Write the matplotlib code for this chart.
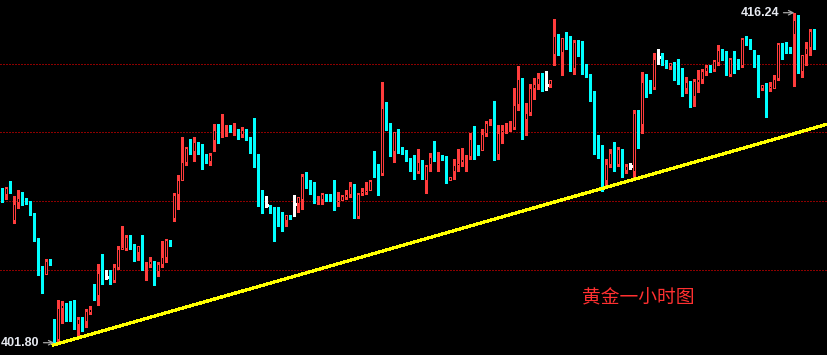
import matplotlib
matplotlib.use("Agg")
import matplotlib.pyplot as plt
import numpy as np

# 黄金 1小时 K线 (开, 高, 低, 收)
opens = [408.45, 408.28, 408.57, 407.11, 407.90, 408.19, 408.13, 408.02, 407.43, 406.29,
         404.84, 404.75, 405.39, 402.59, 401.92, 403.26, 403.47, 403.41, 403.26, 402.59,
         402.85, 402.71, 403.09, 404.02, 403.84, 404.84, 404.69, 404.72, 404.49, 405.07,
         405.86, 405.89, 406.44, 406.00, 405.74, 406.03, 405.01, 405.21, 405.33, 404.89,
         405.21, 405.51, 406.24, 407.20, 408.28, 408.89, 409.68, 410.32, 410.15, 410.55,
         410.50, 409.74, 409.71, 410.64, 411.17, 410.96, 411.05, 411.20, 411.11, 411.17,
         410.87, 411.14, 410.73, 410.99, 409.62, 408.45, 407.81, 407.81, 407.55, 407.34,
         407.29, 407.14, 407.35, 407.87, 407.87, 408.05, 409.10, 408.66, 408.34, 408.05,
         408.05, 408.31, 408.22, 408.92, 407.93, 408.02, 408.13, 408.25, 408.66, 407.29,
         408.31, 408.37, 408.45, 409.79, 409.36, 409.18, 412.07, 411.25, 410.15, 411.02,
         410.26, 410.20, 409.88, 409.42, 409.27, 409.71, 408.86, 409.56, 409.94, 409.82,
         409.94, 409.88, 408.89, 409.27, 409.53, 409.68, 409.82, 409.94, 410.76, 410.35,
         410.20, 410.93, 411.40, 412.01, 410.00, 410.99, 411.08, 411.11, 411.20, 412.19,
         413.32, 411.55, 411.87, 412.92, 413.09, 413.41, 413.09, 413.06, 414.40, 415.22,
         414.46, 415.16, 414.96, 413.76, 414.96, 414.61, 413.91, 413.56, 411.55, 410.41,
         410.32, 408.89, 409.56, 410.15, 409.56, 410.20, 409.33, 409.53, 409.27, 411.84,
         411.31, 413.21, 413.12, 412.95, 414.29, 414.32, 414.05, 413.88, 414.08, 413.91,
         413.56, 412.92, 413.21, 412.57, 413.18, 413.30, 413.65, 413.88, 413.73, 414.03,
         414.61, 414.52, 413.50, 414.23, 414.08, 413.91, 415.05, 414.99, 414.23, 414.11,
         412.92, 413.06, 412.89, 412.92, 413.33, 414.84, 414.75, 414.75, 415.28, 415.95,
         413.65, 414.37, 414.70, 415.45]
highs = [408.56, 408.63, 408.89, 408.22, 408.48, 408.40, 408.13, 408.02, 407.46, 406.38,
         405.16, 405.45, 405.48, 402.82, 403.67, 403.64, 403.55, 403.61, 403.67, 402.94,
         402.94, 403.26, 403.41, 404.37, 405.24, 405.68, 404.98, 404.98, 405.24, 406.03,
         406.91, 406.50, 406.50, 406.12, 406.03, 406.53, 405.33, 405.54, 405.39, 405.33,
         406.27, 406.35, 406.29, 408.34, 409.15, 410.82, 410.38, 410.73, 410.82, 410.58,
         410.50, 410.06, 410.09, 411.37, 411.37, 411.81, 411.31, 411.31, 411.40, 411.17,
         411.22, 411.17, 410.79, 411.63, 410.06, 408.48, 408.22, 407.81, 407.75, 407.72,
         407.52, 407.37, 407.40, 408.28, 408.19, 409.18, 409.27, 408.92, 408.83, 408.22,
         408.37, 408.31, 408.31, 408.92, 408.40, 408.28, 408.48, 408.83, 408.74, 408.37,
         408.57, 408.83, 408.92, 410.17, 409.62, 413.21, 412.33, 411.40, 411.02, 411.14,
         410.35, 410.23, 409.88, 410.00, 410.26, 409.79, 409.56, 410.12, 410.61, 410.15,
         410.03, 409.97, 409.07, 409.82, 410.29, 410.32, 410.00, 410.99, 411.28, 410.44,
         411.14, 411.49, 411.57, 412.36, 411.31, 411.31, 411.40, 411.49, 412.95, 413.91,
         413.38, 412.30, 413.12, 413.38, 413.59, 413.59, 413.67, 413.30, 415.98, 415.31,
         415.13, 415.40, 415.22, 415.05, 415.05, 415.02, 414.00, 413.56, 412.83, 410.90,
         410.44, 409.82, 410.29, 410.58, 410.38, 410.29, 409.62, 409.68, 411.98, 411.98,
         413.65, 413.56, 413.30, 414.49, 414.67, 414.49, 414.17, 414.05, 414.08, 414.23,
         413.82, 413.44, 413.24, 413.33, 413.73, 413.76, 413.94, 413.94, 414.17, 414.81,
         414.64, 414.55, 414.26, 414.55, 414.23, 415.13, 415.22, 415.07, 414.61, 414.37,
         413.09, 413.18, 413.21, 413.50, 414.93, 414.93, 414.96, 414.75, 416.24, 416.15,
         414.40, 414.96, 415.54, 415.54]
lows = [407.97, 408.07, 408.34, 407.05, 407.68, 407.81, 407.87, 407.40, 406.27, 404.78,
        403.99, 404.75, 405.21, 401.80, 401.89, 402.65, 402.77, 402.77, 402.39, 402.15,
        402.33, 402.50, 403.06, 403.67, 403.44, 404.37, 404.57, 404.37, 404.46, 405.01,
        405.86, 405.86, 405.89, 405.36, 405.42, 404.98, 404.54, 405.10, 404.34, 404.72,
        405.13, 405.33, 406.03, 407.11, 407.67, 408.89, 409.59, 410.06, 409.77, 410.06,
        409.42, 409.68, 409.56, 410.20, 410.55, 410.79, 410.85, 411.02, 410.87, 410.70,
        410.79, 410.67, 410.12, 409.50, 407.78, 407.49, 407.75, 407.46, 406.27, 406.91,
        406.70, 406.91, 407.20, 407.35, 407.52, 407.67, 408.57, 408.31, 407.93, 407.87,
        407.87, 408.02, 408.02, 407.61, 407.78, 407.99, 408.10, 408.16, 407.26, 407.26,
        408.28, 408.31, 408.42, 409.07, 408.28, 409.15, 411.11, 409.97, 409.71, 410.09,
        410.06, 409.77, 409.33, 408.98, 409.21, 408.98, 408.37, 409.33, 409.77, 409.30,
        409.79, 408.80, 408.86, 408.98, 409.33, 409.53, 409.33, 409.85, 409.85, 410.03,
        410.20, 410.85, 411.31, 409.79, 409.82, 410.55, 410.99, 411.08, 411.14, 411.98,
        410.70, 410.90, 411.78, 412.48, 412.89, 412.83, 412.86, 413.00, 413.97, 414.40,
        413.53, 414.67, 413.67, 413.56, 414.35, 413.56, 413.44, 412.39, 410.06, 409.88,
        408.45, 408.69, 409.47, 409.33, 409.53, 409.07, 409.24, 409.39, 409.01, 410.32,
        410.96, 412.54, 412.71, 412.92, 414.00, 413.94, 413.82, 413.79, 413.30, 413.12,
        412.60, 412.74, 412.13, 412.16, 412.77, 413.18, 413.50, 413.65, 413.67, 413.97,
        414.17, 413.50, 413.47, 413.62, 413.79, 413.88, 414.84, 414.64, 413.88, 412.57,
        412.86, 411.69, 412.83, 412.89, 413.30, 414.23, 414.49, 414.49, 413.03, 413.62,
        413.41, 413.97, 414.40, 414.67]
closes = [408.28, 408.57, 408.37, 407.87, 408.13, 408.10, 408.02, 407.43, 406.29, 404.81,
          404.75, 405.39, 405.30, 401.95, 403.32, 403.47, 403.38, 403.14, 402.59, 402.85,
          402.71, 403.17, 403.29, 403.84, 404.87, 404.63, 404.69, 404.43, 405.13, 405.89,
          405.97, 406.44, 405.97, 405.74, 406.03, 404.98, 405.07, 405.36, 404.89, 405.24,
          405.54, 406.29, 406.06, 408.28, 408.92, 409.71, 410.32, 410.12, 410.58, 410.47,
          409.77, 409.71, 410.03, 411.11, 411.05, 411.05, 411.17, 411.08, 411.17, 410.85,
          411.11, 410.70, 410.41, 409.62, 408.45, 407.78, 407.81, 407.52, 407.34, 407.23,
          407.08, 407.37, 407.26, 407.87, 408.16, 409.10, 408.63, 408.34, 408.02, 408.10,
          408.31, 408.16, 408.16, 407.93, 408.05, 408.22, 408.31, 408.66, 407.29, 408.31,
          408.42, 408.48, 408.89, 409.33, 409.15, 412.07, 411.20, 410.15, 411.02, 410.20,
          410.15, 409.82, 409.45, 409.33, 409.71, 409.01, 409.53, 409.91, 409.79, 409.94,
          409.82, 408.89, 409.04, 409.56, 409.68, 409.82, 409.91, 410.70, 410.32, 410.20,
          410.93, 411.40, 411.46, 410.00, 410.99, 411.11, 411.17, 411.20, 412.19, 413.32,
          411.55, 411.87, 412.95, 413.12, 413.38, 413.03, 413.09, 413.30, 415.22, 414.43,
          415.13, 414.93, 413.79, 414.96, 414.58, 413.88, 413.50, 412.45, 410.38, 410.29,
          408.83, 409.62, 410.12, 409.53, 410.26, 409.33, 409.53, 409.53, 411.84, 411.19,
          413.21, 413.03, 412.95, 414.23, 414.29, 414.00, 413.85, 414.03, 413.88, 413.53,
          412.92, 413.21, 412.57, 413.24, 413.33, 413.67, 413.88, 413.67, 414.14, 414.61,
          414.29, 413.50, 414.23, 414.05, 413.91, 415.07, 414.87, 414.78, 414.08, 412.92,
          413.09, 412.92, 413.03, 413.33, 414.87, 414.70, 414.64, 414.52, 415.92, 413.65,
          414.40, 414.70, 415.45, 415.07]

grid_levels = [405, 408, 411, 414]
trend_x = [12.75, 206.4]
trend_y = [401.70, 411.37]
hi_idx, lo_idx = 198, 13
title = "黄金一小时图"

UP = "#FF3C3C"
DOWN = "#00FFFF"
DOJI = "#FFFFFF"

o = np.array(opens)
h = np.array(highs)
l = np.array(lows)
c = np.array(closes)
x = np.arange(len(o))

fig = plt.figure(figsize=(8.28, 3.55), dpi=100, facecolor="black")
ax = fig.add_axes([0, 0, 1, 1], facecolor="black")
ax.set_xlim(-0.575, 206.425)
ax.set_ylim(401.262, 416.796)
ax.axis("off")

# 网格线 (暗红点线)
for g in grid_levels:
    ax.axhline(g, color="#8C0000", lw=0.72, ls=(0, (1.4, 1.4)), zorder=1, antialiased=False)

up = c > o
down = c < o
doji = c == o
top = np.maximum(o, c)
bot = np.minimum(o, c)
px = 0.043758  # 一个像素对应的价格

# 阴线: 影线 + 实心实体
ax.vlines(x[down], l[down], h[down], color=DOWN, lw=0.9, zorder=2, antialiased=False)
ax.bar(x[down], np.maximum(top[down] - bot[down], px), bottom=bot[down], width=0.75,
       color=DOWN, linewidth=0, zorder=3, antialiased=False)

# 阳线: 空心实体, 影线不穿过实体
ax.vlines(x[up], top[up], h[up], color=UP, lw=0.9, zorder=2, antialiased=False)
ax.vlines(x[up], l[up], bot[up], color=UP, lw=0.9, zorder=2, antialiased=False)
ax.bar(x[up], np.maximum(top[up] - bot[up], px), bottom=bot[up], width=0.75,
       color=UP, linewidth=0, zorder=3, antialiased=False)
inner = (top - bot) > 2.5 * px
sel = up & inner
ax.bar(x[sel], top[sel] - bot[sel] - 2 * px, bottom=bot[sel] + px, width=0.27,
       color="black", linewidth=0, zorder=4, antialiased=False)

# 十字星
ax.vlines(x[doji], l[doji], h[doji], color=DOJI, lw=0.9, zorder=2, antialiased=False)
ax.hlines(o[doji], x[doji] - 0.4, x[doji] + 0.4, color=DOJI, lw=0.9, zorder=3,
          antialiased=False)

# 趋势线
ax.plot(trend_x, trend_y, color="#FFFF00", lw=1.6, zorder=5, antialiased=False)

# 最高 / 最低标注
lab = dict(color="#E6E9F0", fontsize=9, fontweight="bold", family="Liberation Sans",
           ha="right", va="center", textcoords="offset pixels", zorder=6,
           arrowprops=dict(arrowstyle="->", color="#A8A8A8", lw=0.9,
                           shrinkA=1, shrinkB=0, mutation_scale=8))
ax.annotate(f"{h[hi_idx]:.2f}", xy=(hi_idx, h[hi_idx]), xytext=(-15, 0), **lab)
ax.annotate(f"{l[lo_idx]:.2f}", xy=(lo_idx, l[lo_idx]), xytext=(-15, 0), **lab)

ax.text(0.703, 0.161, title, transform=ax.transAxes, color="#FF3030", fontsize=13.5,
        family=["Noto Sans CJK SC", "DejaVu Sans"], ha="left", va="center", zorder=6)

fig.savefig("out.png", dpi=100, facecolor="black")
